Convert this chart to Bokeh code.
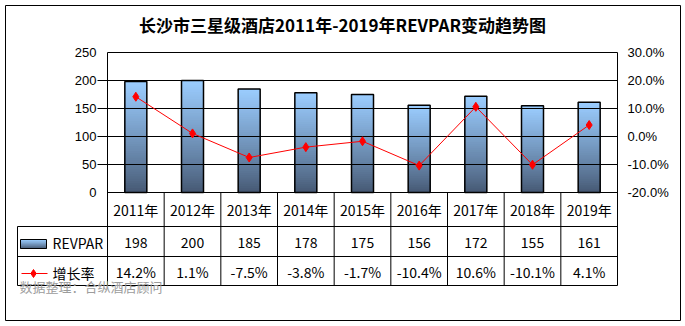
import numpy as np
from bokeh.plotting import figure
from bokeh.models import Range1d
from bokeh.core.properties import value
from bokeh.embed import file_html
from bokeh.resources import INLINE

# ---------------- data ----------------
title_text = "长沙市三星级酒店2011年-2019年REVPAR变动趋势图"
years = ["2011年", "2012年", "2013年", "2014年", "2015年", "2016年", "2017年", "2018年", "2019年"]
revpar = [198, 200, 185, 178, 175, 156, 172, 155, 161]
growth = [14.2, 1.1, -7.5, -3.8, -1.7, -10.4, 10.6, -10.1, 4.1]
left_ticks = [0, 50, 100, 150, 200, 250]
right_ticks = [-20, -10, 0, 10, 20, 30]
series_names = ["REVPAR", "增长率"]
source_note = "数据整理：合纵酒店顾问"

# ---------------- layout (pixels) ----------------
W, H = 685, 326
BX0, BX1, BY0, BY1 = 5, 680, 5, 320        # outer border (= frame)
PL, PR, PT, PB = 107, 617, 52, 192          # plot area
n = len(years)
CW = (PR - PL) / n
LMIN, LMAX = left_ticks[0], left_ticks[-1]
RMIN, RMAX = right_ticks[0], right_ticks[-1]
UPP = (LMAX - LMIN) / (PB - PT)


def X(px):
    return (px - PL) / CW


def Y(py):
    return (PB - py) * UPP


def to_right(v_left):
    return RMIN + (v_left - LMIN) / (LMAX - LMIN) * (RMAX - RMIN)


ys0, ys1 = Y(BY1), Y(BY0)
p = figure(width=W, height=H,
           x_range=Range1d(X(BX0), X(BX1)), y_range=Range1d(ys0, ys1),
           x_axis_type=None, y_axis_type=None, title=None,
           toolbar_location=None, output_backend="svg",
           min_border_left=BX0, min_border_right=W - BX1,
           min_border_top=BY0, min_border_bottom=H - BY1)
p.extra_y_ranges = {"right": Range1d(to_right(ys0), to_right(ys1))}
p.outline_line_color = "black"
p.outline_line_width = 1
p.background_fill_color = "white"
p.border_fill_color = "white"

FONT_CJK = value("Noto Sans CJK SC")
FONT_AX = value("Liberation Sans")

# ---------------- gradient bars ----------------
top_c = np.array([0x9B, 0xCD, 0xFF], dtype=float)
bot_c = np.array([0x44, 0x56, 0x70], dtype=float)


def hexc(c):
    return "#%02x%02x%02x" % tuple(int(round(v)) for v in c)


def grad(frac):
    return hexc(bot_c + (top_c - bot_c) * (frac ** 0.85))


NS = 48
BW = 22 / CW
L, R_, T, B, C = [], [], [], [], []
for k in range(NS - 1, -1, -1):
    col = grad((k + 0.5) / NS)
    for i, v in enumerate(revpar):
        L.append(i + 0.5 - BW / 2)
        R_.append(i + 0.5 + BW / 2)
        B.append(0)
        T.append(v * (k + 1) / NS)
        C.append(col)
p.quad(left=L, right=R_, bottom=B, top=T, fill_color=C, line_color=None)

xs = [i + 0.5 for i in range(n)]
p.quad(left=[x - BW / 2 for x in xs], right=[x + BW / 2 for x in xs],
       bottom=[0] * n, top=revpar, fill_color=None, line_color="black", line_width=1.5)

# ---------------- gridlines & frame lines ----------------
gx0, gx1, gy = [], [], []
for t in left_ticks:
    gx0.append(0 if t in (LMIN, LMAX) else X(97))
    gx1.append(n)
    gy.append(t)
p.segment(x0=gx0, y0=gy, x1=gx1, y1=gy, line_color="black", line_width=1)

# vertical lines (plot sides + table columns)
vx, vy0, vy1 = [], [], []
for k in range(n + 1):
    vx.append(k)
    vy0.append(LMAX if k in (0, n) else 0)
    vy1.append(Y(285))
vx.append(X(17)); vy0.append(Y(226)); vy1.append(Y(285))
p.segment(x0=vx, y0=vy0, x1=vx, y1=vy1, line_color="black", line_width=1)

# table horizontal lines
hy = [Y(226), Y(256), Y(285)]
p.segment(x0=[X(17)] * 3, y0=hy, x1=[n] * 3, y1=hy, line_color="black", line_width=1)

# ---------------- growth line ----------------
p.line(xs, growth, y_range_name="right", line_color="#ff0000", line_width=1)
p.scatter(xs, growth, y_range_name="right", marker="diamond", size=9,
          fill_color="#ff0000", line_color="#ff0000")

# ---------------- axis labels ----------------
p.text(x=[X(96)] * len(left_ticks), y=left_ticks, text=[str(t) for t in left_ticks],
       text_align="right", text_baseline="middle", text_font=FONT_AX,
       text_font_size="13px", text_color="black")
p.text(x=[X(627)] * len(right_ticks), y=right_ticks,
       text=["%.1f%%" % t for t in right_ticks], y_range_name="right",
       text_align="left", text_baseline="middle", text_font=FONT_AX,
       text_font_size="13px", text_color="black")

# ---------------- title ----------------
p.text(x=[X(342)], y=[Y(24)], text=[title_text], text_align="center",
       text_baseline="middle", text_font=FONT_CJK, text_font_style="bold",
       text_font_size="17px", text_color="black")

# ---------------- table text ----------------
p.text(x=xs, y=[Y(209)] * n, text=years, text_align="center", text_baseline="middle",
       text_font=FONT_CJK, text_font_size="14px", text_color="black")
p.text(x=xs, y=[Y(242)] * n, text=[str(v) for v in revpar], text_align="center",
       text_baseline="middle", text_font=FONT_CJK, text_font_size="14px", text_color="black")
p.text(x=xs, y=[Y(271)] * n, text=["%.1f%%" % g for g in growth], text_align="center",
       text_baseline="middle", text_font=FONT_CJK, text_font_size="14px", text_color="black")

# legend column
p.text(x=[X(52), X(52)], y=[Y(242), Y(272)], text=series_names, text_align="left",
       text_baseline="middle", text_font=FONT_CJK, text_font_size="14px", text_color="black")
NL = 8
for k in range(NL - 1, -1, -1):
    p.quad(left=[X(20)], right=[X(46)], bottom=[Y(248)],
           top=[Y(248) + (Y(239) - Y(248)) * (k + 1) / NL],
           fill_color=grad((k + 0.5) / NL), line_color=None)
p.quad(left=[X(20)], right=[X(46)], bottom=[Y(248)], top=[Y(239)],
       fill_color=None, line_color="black", line_width=1)
p.segment(x0=[X(21)], y0=[Y(273)], x1=[X(47)], y1=[Y(273)], line_color="#ff0000", line_width=1)
p.scatter(x=[X(33)], y=[Y(273)], marker="diamond", size=8,
          fill_color="#ff0000", line_color="#ff0000")

# source note
p.text(x=[X(19)], y=[Y(286)], text=[source_note], text_align="left", text_baseline="middle",
       text_font=FONT_CJK, text_font_size="13px", text_color="#9c9c9c")

open("out.html", "w").write(file_html(p, INLINE))
